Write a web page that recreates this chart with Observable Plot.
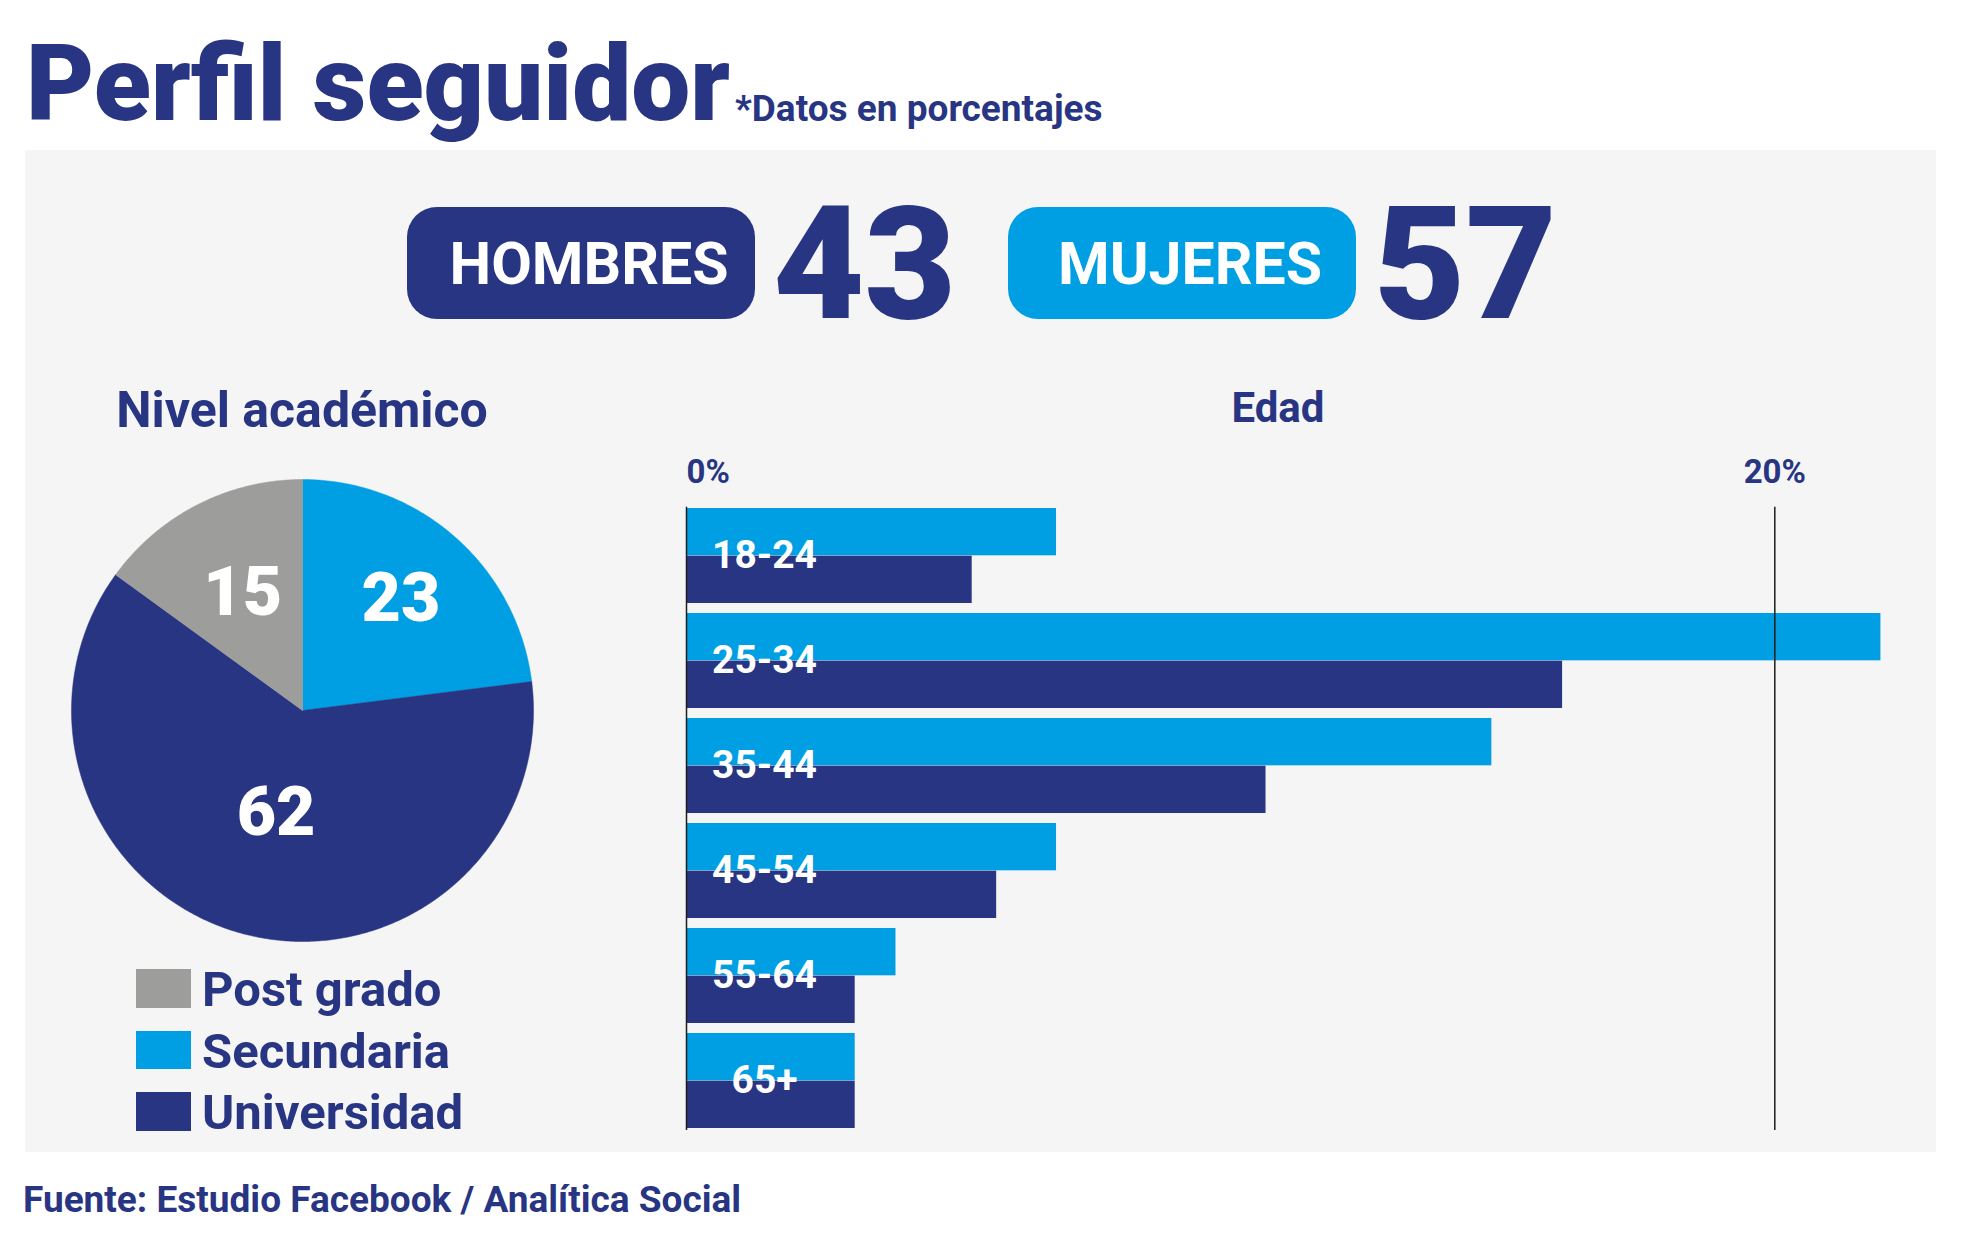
<!DOCTYPE html>
<html><head><meta charset="utf-8">
<script src="https://cdn.jsdelivr.net/npm/d3@7"></script>
<script src="https://cdn.jsdelivr.net/npm/@observablehq/plot@0.6"></script>
<style>
html,body{margin:0;padding:0;background:#fff;}
body{width:1961px;height:1252px;position:relative;overflow:hidden;font-family:Roboto,"Noto Sans",sans-serif;color:#283583;}
.abs{position:absolute;line-height:1;white-space:nowrap;}
#panel{position:absolute;left:25px;top:150px;width:1911px;height:1002px;background:#f5f5f5;}
.pill{position:absolute;top:207px;width:348px;height:112px;border-radius:30px;display:flex;align-items:center;justify-content:center;box-sizing:border-box;padding-left:16px;color:#fff;font-weight:700;font-size:59px;line-height:1;}
.big{font-weight:900;font-size:158px;}
.sw{position:absolute;left:136px;width:55px;height:38.5px;}
.lg{font-weight:700;font-size:49px;left:202px;}
</style></head>
<body>
<div id="panel"></div>
<div id="root"></div>
<script>
// ---------- data ----------
const NAVY = "#283583", CYAN = "#009fe3", GRAY = "#9d9d9c";
const title = "Perfil seguidor";
const subtitle = "*Datos en porcentajes";
const genderLabels = ["HOMBRES", "MUJERES"];
const genderValues = [43, 57];
const eduTitle = "Nivel académico";
const eduLabels = ["Secundaria", "Universidad", "Post grado"]; // clockwise from 12 o'clock
const eduValues = [23, 62, 15];
const legendOrder = ["Post grado", "Secundaria", "Universidad"];
const legendColors = [GRAY, CYAN, NAVY];
const ageTitle = "Edad";
const ageGroups = ["18-24", "25-34", "35-44", "45-54", "55-64", "65+"];
const mujeres = [6.8, 21.95, 14.8, 6.8, 3.85, 3.1];
const hombres = [5.25, 16.1, 10.65, 5.7, 3.1, 3.1];
const xTicks = [0, 20];
const source = "Fuente: Estudio Facebook / Analítica Social";

const root = document.getElementById("root");
function addText(txt, cls, css) {
  const d = document.createElement("div");
  d.className = "abs " + (cls || "");
  d.textContent = txt;
  Object.assign(d.style, css);
  root.appendChild(d);
  return d;
}
// headings
addText(title, "", {left: "26px", top: "32px", fontSize: "105px", fontWeight: 900});
addText(subtitle, "", {left: "735px", top: "90px", fontSize: "37px", fontWeight: 700});
// gender pills
const pillLeft = [407, 1008], numLeft = [773, 1374], pillColor = [NAVY, CYAN];
genderLabels.forEach((g, i) => {
  const p = document.createElement("div");
  p.className = "pill"; p.textContent = g;
  p.style.left = pillLeft[i] + "px"; p.style.background = pillColor[i];
  root.appendChild(p);
  addText(String(genderValues[i]), "big", {left: numLeft[i] + "px", top: "185px"});
});
// section titles
addText(eduTitle, "", {left: "102px", width: "400px", textAlign: "center", top: "385px", fontSize: "50px", fontWeight: 700});
addText(ageTitle, "", {left: "1078px", width: "400px", textAlign: "center", top: "387px", fontSize: "42px", fontWeight: 700});
// legend
const swTop = [969, 1030.5, 1092];
legendOrder.forEach((l, i) => {
  const s = document.createElement("div");
  s.className = "sw"; s.style.top = swTop[i] + "px"; s.style.background = legendColors[i];
  root.appendChild(s);
  addText(l, "lg", {top: (swTop[i] - 4) + "px"});
});
// footer
addText(source, "", {left: "23px", top: "1181px", fontSize: "37px", fontWeight: 700});

// ---------- pie ----------
const total = d3.sum(eduValues);
let acc = 0;
const slices = eduLabels.map((label, i) => {
  const a0 = acc / total * 2 * Math.PI; acc += eduValues[i];
  const a1 = acc / total * 2 * Math.PI;
  return {label, value: eduValues[i], a0, a1, mid: (a0 + a1) / 2};
});
const piePts = slices.flatMap(s => {
  const n = Math.max(2, Math.ceil((s.a1 - s.a0) / 0.01));
  const pts = [{label: s.label, x: 0, y: 0}];
  for (let k = 0; k <= n; k++) {
    const a = s.a0 + (s.a1 - s.a0) * k / n;
    pts.push({label: s.label, x: Math.sin(a), y: Math.cos(a)});
  }
  pts.push({label: s.label, x: 0, y: 0});
  return pts;
});
const labelR = s => (s.value > 50 ? 0.46 : s.value > 20 ? 0.644 : 0.57);
const pie = Plot.plot({
  width: 480, height: 480, margin: 0,
  style: {background: "transparent", overflow: "visible", fontFamily: "Roboto"},
  x: {domain: [-1, 1], range: [9, 471], axis: null},
  y: {domain: [-1, 1], range: [471, 9], axis: null},
  color: {domain: legendOrder, range: legendColors},
  marks: [
    Plot.line(piePts, {x: "x", y: "y", z: "label", fill: "label", stroke: "label", strokeWidth: 0.5, curve: "linear"}),
    Plot.text(slices, {x: s => labelR(s) * Math.sin(s.mid), y: s => labelR(s) * Math.cos(s.mid), text: s => String(s.value), fill: "white", fontSize: 68, fontWeight: 900})
  ]
});
Object.assign(pie.style, {position: "absolute", left: "62px", top: "470px"});
root.appendChild(pie);

// ---------- bars ----------
const BW = 1260, BH = 712, mT = 66.7, mB = 22, mL = 46, mR = 125.7, pIn = 0.097;
const bandwidth = (BH - mT - mB) * (1 - pIn) / (ageGroups.length - pIn);
const rowsM = ageGroups.map((g, i) => ({age: g, value: mujeres[i]}));
const rowsH = ageGroups.map((g, i) => ({age: g, value: hombres[i]}));
const tickStyle = {fill: NAVY, fontSize: 33, fontWeight: 700, frameAnchor: "top", dy: -24.5, lineAnchor: "bottom", text: d => d + "%"};
const bars = Plot.plot({
  width: BW, height: BH, marginTop: mT, marginBottom: mB, marginLeft: mL, marginRight: mR,
  style: {background: "transparent", overflow: "visible", fontFamily: "Roboto"},
  x: {domain: [0, 20], axis: null},
  y: {domain: ageGroups, paddingInner: pIn, paddingOuter: 0, axis: null},
  marks: [
    Plot.barX(rowsM, {x: "value", y: "age", fill: CYAN, insetBottom: bandwidth / 2}),
    Plot.barX(rowsH, {x: "value", y: "age", fill: NAVY, insetTop: bandwidth / 2}),
    Plot.ruleX(xTicks, {stroke: "#1d1d1b", strokeWidth: 1.5}),
    Plot.text(ageGroups, {x: () => 0, y: d => d, text: d => d, dx: 78, fill: "white", fontSize: 39, fontWeight: 700}),
    Plot.text(xTicks.slice(0, 1), {x: d => d, textAnchor: "start", ...tickStyle}),
    Plot.text(xTicks.slice(1), {x: d => d, textAnchor: "middle", ...tickStyle})
  ]
});
Object.assign(bars.style, {position: "absolute", left: "640px", top: "440px"});
root.appendChild(bars);
</script>
</body></html>
